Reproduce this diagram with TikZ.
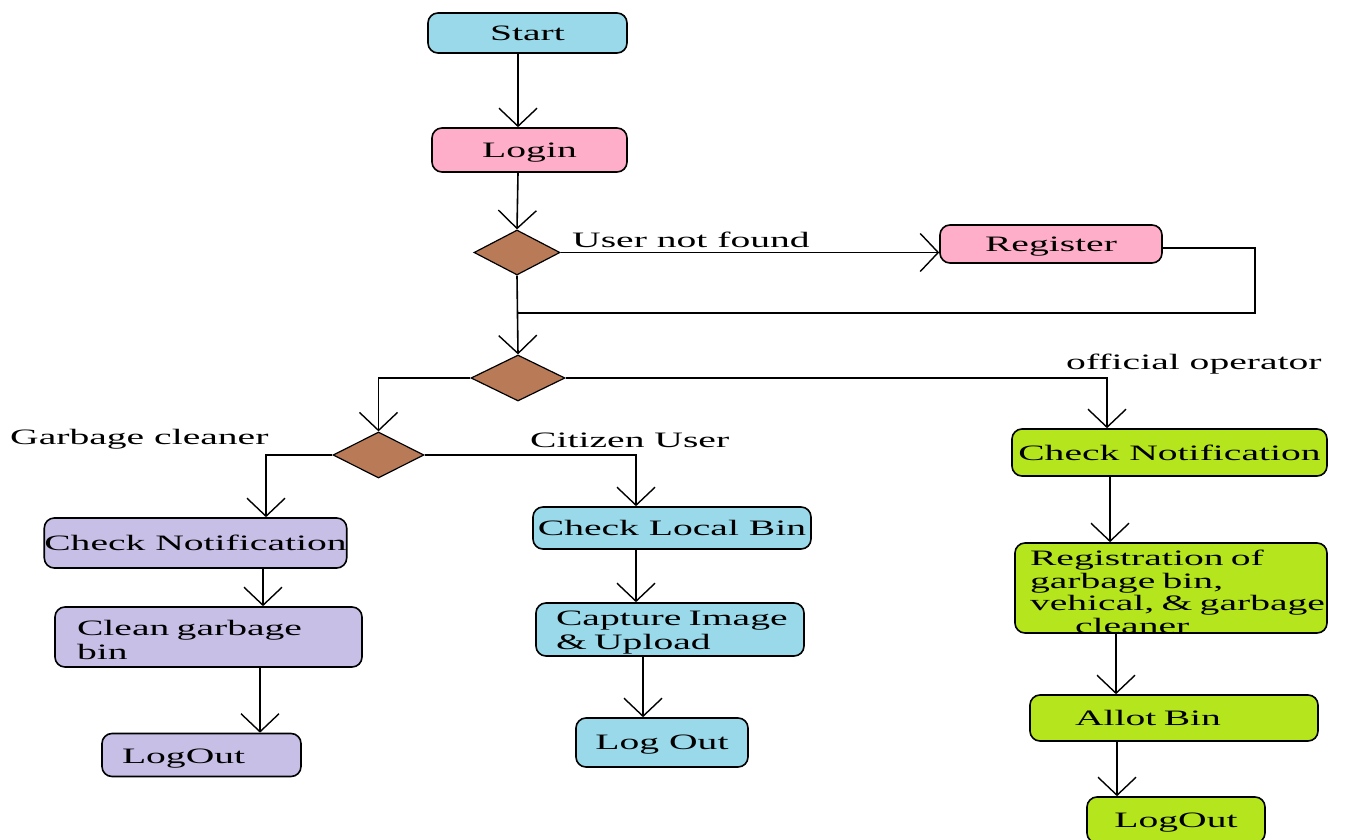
\documentclass[tikz,border=0pt]{standalone}
\usepackage{fontspec}
\setmainfont{Liberation Serif}[FakeStretch=1.8]
\usetikzlibrary{arrows.meta,shapes.geometric}
\definecolor{cblue}{HTML}{99D9EA}
\definecolor{cpink}{HTML}{FFAEC9}
\definecolor{cpurple}{HTML}{C8BFE7}
\definecolor{cgreen}{HTML}{B5E61D}
\definecolor{cbrown}{HTML}{B97A57}
\begin{document}
\begin{tikzpicture}[x=1pt,y=-1pt,
  font=\fontsize{22}{24}\selectfont,
  box/.style={draw=black,line width=1.6pt,rounded corners=10pt,inner sep=0pt,text depth=0pt},
  lbox/.style={box,align=left,inner xsep=#1},
  dec/.style={diamond,draw=black,line width=1.2pt,fill=cbrown,inner sep=0pt},
  arr/.style={line width=1.6pt,-{Straight Barb[length=18pt,width=38pt,line width=1.4pt]}},
  ln/.style={line width=1.6pt},
  lab/.style={anchor=base west,inner sep=0pt}]
\clip (0,0) rectangle (1358,840);
\fill[white] (0,0) rectangle (1358,840);

% top flow
\node[box,fill=cblue,minimum width=199pt,minimum height=40pt] (start) at (527.5,33) {Start};
\node[box,fill=cpink,minimum width=195pt,minimum height=44pt] (login) at (529.5,150) {Login};
\node[dec,minimum width=86pt,minimum height=45pt] (d1) at (517,252.5) {};
\node[box,fill=cpink,minimum width=222pt,minimum height=38pt] (reg) at (1051,244) {Register};
\node[dec,minimum width=94pt,minimum height=46pt] (d2) at (518,378) {};
\node[dec,minimum width=91pt,minimum height=46pt] (d3) at (378.5,455) {};
\coordinate (rc) at (1255,313);
\coordinate (jn) at (518,313);

% labels
\node[lab] (lnf) at (572,247) {User not found};
\node[lab] (lop) at (1066,369) {official operator};
\node[lab] (lgc) at (10,444) {Garbage cleaner};
\node[lab] (lcu) at (530,447) {Citizen User};

% garbage cleaner column
\node[box,fill=cpurple,minimum width=295pt,minimum height=50pt] (cn1) at (195.5,543) {Check Notification};
\node[lbox=22pt,fill=cpurple,text width=263pt,minimum height=60pt,text depth=18pt] (cg) at (208.5,637) {\mbox{Clean garbage}\\\mbox{bin}};
\node[lbox=20pt,fill=cpurple,text width=159pt,minimum height=43pt] (lo1) at (201.5,755) {\raisebox{-3pt}{LogOut}};

% citizen column
\node[box,fill=cblue,minimum width=278pt,minimum height=42pt] (clb) at (672,528) {Check Local Bin};
\node[lbox=20pt,fill=cblue,text width=228pt,minimum height=53pt,text depth=22pt] (cap) at (670,629.5) {\mbox{Capture Image}\\\mbox{\& Upload}};
\node[box,fill=cblue,minimum width=172pt,minimum height=49pt] (lo2) at (662,742.5) {Log Out};

% official operator column
\node[lbox=15pt,fill=cgreen,text width=282pt,minimum height=90pt,text depth=60pt,font=\fontsize{22}{22.5}\selectfont] (rgb) at (1171,588) {\mbox{Registration of}\\\mbox{garbage bin,}\\\mbox{vehical, \& garbage}\\\mbox{\hspace*{45pt}cleaner}};
\node[box,fill=cgreen,minimum width=315pt,minimum height=47pt] (cn3) at (1169.5,452.5) {Check Notification};
\node[lbox=45pt,fill=cgreen,text width=198pt,minimum height=46pt] (allot) at (1174,718) {Allot Bin};
\node[box,fill=cgreen,minimum width=178pt,minimum height=46pt] (lo3) at (1176,820) {LogOut};

% connectors
\draw[arr] ([xshift=-9.5pt]start.south) -- ([xshift=-11.5pt]login.north);
\draw[arr] ([xshift=-11.5pt]login.south) -- (d1.north);
\draw[arr] (d1.east) -- (d1.east -| reg.west);
\draw[ln] ([yshift=-4pt]reg.east) -| (rc) -- (jn);
\draw[arr] (d1.south) -- (d2.north);
\draw[arr] (d2.west) -| (d3.north);
\draw[arr] (d2.east) -| ([xshift=-62.5pt]cn3.north);
\draw[arr] (d3.west) -| ([xshift=70.5pt]cn1.north);
\draw[arr] (d3.east) -| ([xshift=-36pt]clb.north);
\draw[arr] ([xshift=67.5pt]cn1.south) -- ([xshift=54.5pt]cg.north);
\draw[arr] ([xshift=51.5pt]cg.south) -- ([xshift=58.5pt]lo1.north);
\draw[arr] ([xshift=-36pt]clb.south) -- ([xshift=-34pt]cap.north);
\draw[arr] ([xshift=-27pt]cap.south) -- ([xshift=-19pt]lo2.north);
\draw[arr] ([xshift=-59.5pt]cn3.south) -- ([xshift=-61pt]rgb.north);
\draw[arr] ([xshift=-55pt]rgb.south) -- ([xshift=-58pt]allot.north);
\draw[arr] ([xshift=-57pt]allot.south) -- ([xshift=-59pt]lo3.north);
\end{tikzpicture}
\end{document}
